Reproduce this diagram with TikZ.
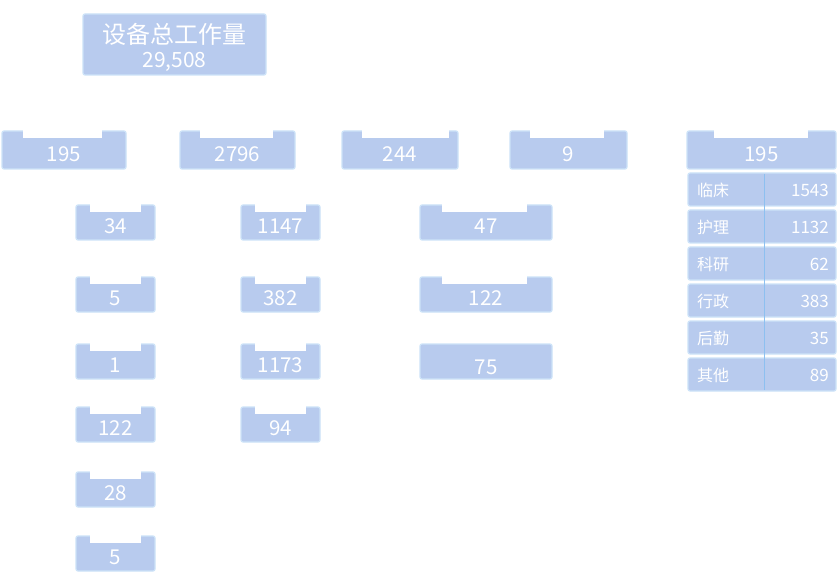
\documentclass[tikz,border=0pt]{standalone}
\usepackage{fontspec}
\setmainfont{Noto Sans CJK SC}
\definecolor{boxfill}{HTML}{B8CBEE}
\definecolor{boxline}{HTML}{CDE3F8}
\definecolor{sepline}{HTML}{8DC0F0}
\tikzset{
  boxbg/.style={fill=boxfill, draw=boxline, line width=1.2pt, rounded corners=2pt},
  num/.style={text=white, font=\fontsize{20.5}{20.5}\selectfont, inner sep=0pt},
  lbl/.style={text=white, font=\fontsize{16}{16}\selectfont, inner sep=0pt},
  lnum/.style={text=white, font=\fontsize{17}{17}\selectfont, inner sep=0pt},
}
% name, x1, y1, x2, y2, notch x1, notch x2, text
\newcommand{\nbox}[8]{%
  \path[boxbg] (#2,#3) rectangle (#4,#5);
  \fill[white] (#6,#3-1.5) rectangle (#7,#3+7);
  \node[num] (#1) at ({(#2+#4)/2},{(#3+#5)/2+4}) {#8};
}
% name, y top, label, value
\newcommand{\lrow}[4]{%
  \path[boxbg] (688,#2) rectangle (836,#2+33);
  \node[lbl, anchor=west] (#1l) at (697,#2+17) {#3};
  \node[lnum, anchor=east] (#1v) at (829,#2+17) {#4};
}
\begin{document}
\begin{tikzpicture}[x=1pt,y=-1pt]
\useasboundingbox[fill=white] (0,0) rectangle (838,572);
% top box
\path[boxbg] (83,14) rectangle (266,75);
\node[text=white, font=\fontsize{24}{24}\selectfont, inner sep=0pt] (title) at (174.5,34) {设备总工作量};
\node[text=white, font=\fontsize{21}{21}\selectfont, inner sep=0pt] (total) at (174.5,62) {29,508};
% row 1
\nbox{a}{2}{131}{126}{169}{23}{102}{195}
\nbox{b}{180}{131}{295}{169}{200}{273}{2796}
\nbox{c}{342}{131}{458}{169}{362}{449}{244}
\nbox{d}{510}{131}{627}{169}{530}{604}{9}
\nbox{e}{687}{131}{836}{169}{714}{808}{195}
% column 1
\nbox{a1}{76}{205}{155}{240}{90}{141}{34}
\nbox{a2}{76}{277}{155}{312}{90}{141}{5}
\nbox{a3}{76}{344}{155}{379}{90}{141}{1}
\nbox{a4}{76}{407}{155}{442}{90}{141}{122}
\nbox{a5}{76}{472}{155}{507}{90}{141}{28}
\nbox{a6}{76}{536}{155}{571}{90}{141}{5}
% column 2
\nbox{b1}{241}{205}{320}{240}{255}{306}{1147}
\nbox{b2}{241}{277}{320}{312}{255}{306}{382}
\nbox{b3}{241}{344}{320}{379}{255}{306}{1173}
\nbox{b4}{241}{407}{320}{442}{255}{306}{94}
% column 3
\nbox{c1}{420}{205}{552}{240}{442}{527}{47}
\nbox{c2}{420}{277}{552}{312}{442}{527}{122}
\path[boxbg] (420,344) rectangle (552,379);
\node[num] (c3) at (486,367) {75};
% right list
\lrow{r1}{173}{临床}{1543}
\lrow{r2}{210}{护理}{1132}
\lrow{r3}{247}{科研}{62}
\lrow{r4}{284}{行政}{383}
\lrow{r5}{321}{后勤}{35}
\lrow{r6}{358}{其他}{89}
\draw[sepline, line width=0.8pt] (764,174) -- (764,390);
\end{tikzpicture}
\end{document}
